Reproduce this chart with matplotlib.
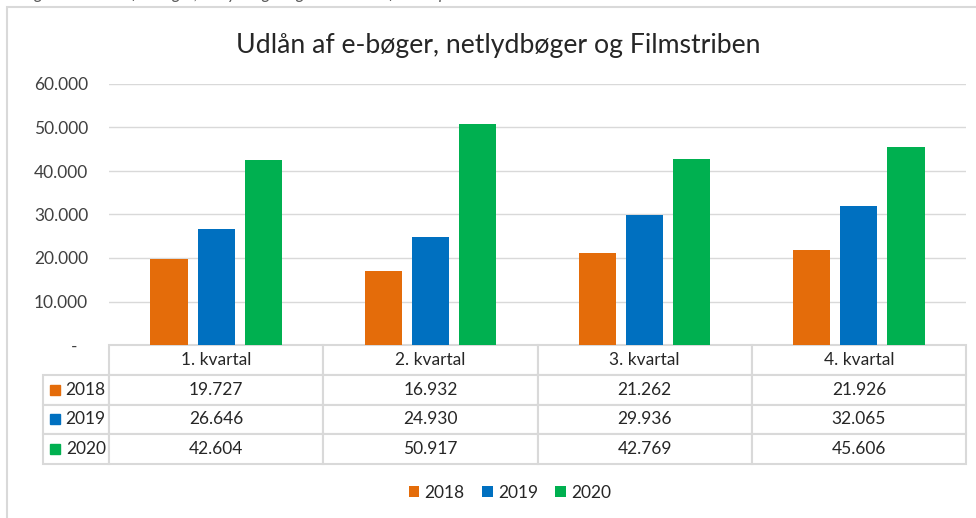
import matplotlib
matplotlib.use('Agg')
import matplotlib.pyplot as plt
from matplotlib.patches import Rectangle
from matplotlib.ticker import FuncFormatter
from matplotlib.transforms import offset_copy
import numpy as np

plt.rcParams['font.family'] = ['Lato', 'DejaVu Sans']

# data
kvartaler = ['1. kvartal', '2. kvartal', '3. kvartal', '4. kvartal']
aar = ['2018', '2019', '2020']
udlaan_2018 = [19727, 16932, 21262, 21926]
udlaan_2019 = [26646, 24930, 29936, 32065]
udlaan_2020 = [42604, 50917, 42769, 45606]
serier = [udlaan_2018, udlaan_2019, udlaan_2020]
farver = ['#E46C0A', '#0070C0', '#00B050']

GRAA = '#D9D9D9'
TEKST = '#262626'
W, H = 976, 518
FS = 12.5

def tal(v, pos=None):
    if v == 0:
        return '-'
    return f'{v:,.0f}'.replace(',', '.')

fig = plt.figure(figsize=(W / 100, H / 100), dpi=100)

# ramme om diagrammet
fig.patches.append(Rectangle((7 / W, -0.1), 1.1, 1 - 7 / H + 0.1, transform=fig.transFigure,
                             fill=False, edgecolor=GRAA, lw=1.5))

# afskåret figurtekst øverst
fig.text(22 / W, 1 + 1.5 / H, 'Figur 5: Udlån af e-bøger, netlydbøger og Filmstriben fordelt på kvartal',
         fontsize=12, style='italic', color='#595959', va='baseline', ha='left')

x0, x1, yb, yt = 109, 966, 345, 84
ax = fig.add_axes([x0 / W, 1 - yb / H, (x1 - x0) / W, (yb - yt) / H])

x = np.arange(len(kvartaler))
bredde = 0.173
afstand = 0.22
for i, (vals, farve) in enumerate(zip(serier, farver)):
    ax.bar(x + (i - 1) * afstand, vals, bredde, color=farve, label=aar[i], zorder=3)

ax.set_xlim(-0.5, len(kvartaler) - 0.5)
ax.set_ylim(0, 60000)
ax.set_yticks(np.arange(0, 60001, 10000))
ax.yaxis.set_major_formatter(FuncFormatter(tal))
ax.tick_params(axis='y', length=0, pad=15, labelsize=FS, labelcolor='#404040')
ax.set_xticks([])
ax.grid(axis='y', color=GRAA, lw=1, zorder=0)
for s in ax.spines.values():
    s.set_visible(False)
# "-" for nul står lidt længere inde, som i Excel
nul = ax.yaxis.get_major_ticks()[0].label1
nul.set_transform(offset_copy(nul.get_transform(), fig=fig, x=-11, y=0, units='dots'))

# datatabel (første kolonne er rækkeetiketter)
celletekst = [[a] + [tal(v) for v in vals] for a, vals in zip(aar, serier)]
tl, tb = 43, 464
bbox = [(tl - x0) / (x1 - x0), -(tb - yb) / (yb - yt), (x1 - tl) / (x1 - x0), (tb - yb) / (yb - yt)]
tab = ax.table(cellText=celletekst, colLabels=[''] + kvartaler,
               colWidths=[66] + [214] * 4, cellLoc='center', bbox=bbox)
tab.auto_set_font_size(False)
tab.set_fontsize(FS)
for (r, c), celle in tab.get_celld().items():
    celle.set_edgecolor(GRAA)
    celle.set_linewidth(1.5)
    celle.get_text().set_color(TEKST)
    if c == 0:
        celle.get_text().set_ha('right')
        celle._loc = 'right'
        celle.PAD = 0.05
tab[0, 0].visible_edges = ''

# farvefirkanter i tabellen
for i, farve in enumerate(farver):
    yc = bbox[1] + bbox[3] * (len(aar) - i - 0.5) / (len(aar) + 1)
    ax.plot([(55 - x0) / (x1 - x0)], [yc], marker='s', ms=7.5, color=farve,
            transform=ax.transAxes, clip_on=False)

fig.text(498 / W, 1 - 45 / H, 'Udlån af e-bøger, netlydbøger og Filmstriben', fontsize=19.2,
         color=TEKST, ha='center', va='center')

handles, labels = ax.get_legend_handles_labels()
fig.legend(handles, labels, loc='center', bbox_to_anchor=(510 / W, 1 - 493 / H), ncol=3,
           frameon=False, fontsize=FS, handlelength=0.6, handleheight=0.6,
           handletextpad=0.3, columnspacing=1.0, labelcolor=TEKST)

fig.savefig('out.png', dpi=100)
